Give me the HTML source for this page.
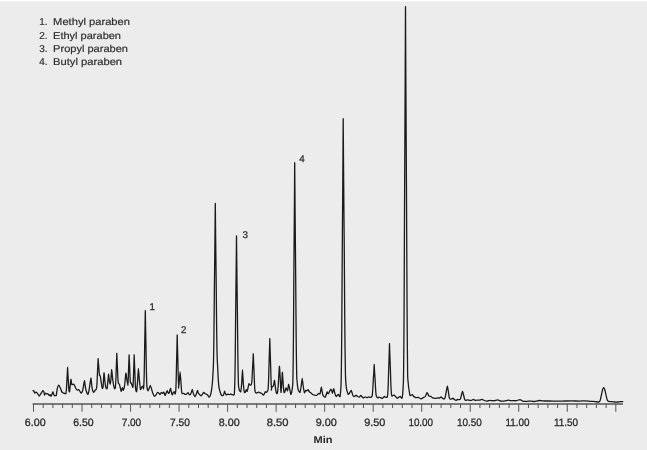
<!DOCTYPE html>
<html><head><meta charset="utf-8"><style>
html,body{margin:0;padding:0;}
body{width:647px;height:450px;overflow:hidden;background:#ececec;}
svg{display:block;filter:grayscale(1);}
text{font-family:"Liberation Sans",sans-serif;text-rendering:geometricPrecision;}
</style></head><body>
<svg width="647" height="450" viewBox="0 0 647 450">
<rect x="0" y="0" width="647" height="450" fill="#ececec"/>
<rect x="0" y="0" width="647" height="1" fill="#ffffff"/>
<rect x="0" y="1" width="647" height="1" fill="#f4f4f4"/>
<g fill="#2e2e2e" font-size="10" stroke="#2e2e2e" stroke-width="0.18">
<text x="39.3" y="25.3">1.</text><text x="53.1" y="25.3" textLength="76.9" lengthAdjust="spacingAndGlyphs">Methyl paraben</text><text x="39.3" y="38.7">2.</text><text x="53.1" y="38.7" textLength="67.9" lengthAdjust="spacingAndGlyphs">Ethyl paraben</text><text x="39.3" y="51.6">3.</text><text x="53.1" y="51.6" textLength="74.9" lengthAdjust="spacingAndGlyphs">Propyl paraben</text><text x="39.3" y="65.1">4.</text><text x="53.1" y="65.1" textLength="69" lengthAdjust="spacingAndGlyphs">Butyl paraben</text>
</g>
<g stroke="#555" stroke-width="1" fill="none">
<line x1="33.5" y1="403.9" x2="33.5" y2="411.8"/><line x1="43.2" y1="403.9" x2="43.2" y2="408"/><line x1="52.91" y1="403.9" x2="52.91" y2="408"/><line x1="62.62" y1="403.9" x2="62.62" y2="408"/><line x1="72.32" y1="403.9" x2="72.32" y2="408"/><line x1="82.03" y1="403.9" x2="82.03" y2="411.8"/><line x1="91.73" y1="403.9" x2="91.73" y2="408"/><line x1="101.44" y1="403.9" x2="101.44" y2="408"/><line x1="111.14" y1="403.9" x2="111.14" y2="408"/><line x1="120.84" y1="403.9" x2="120.84" y2="408"/><line x1="130.55" y1="403.9" x2="130.55" y2="411.8"/><line x1="140.25" y1="403.9" x2="140.25" y2="408"/><line x1="149.96" y1="403.9" x2="149.96" y2="408"/><line x1="159.67" y1="403.9" x2="159.67" y2="408"/><line x1="169.37" y1="403.9" x2="169.37" y2="408"/><line x1="179.07" y1="403.9" x2="179.07" y2="411.8"/><line x1="188.78" y1="403.9" x2="188.78" y2="408"/><line x1="198.49" y1="403.9" x2="198.49" y2="408"/><line x1="208.19" y1="403.9" x2="208.19" y2="408"/><line x1="217.9" y1="403.9" x2="217.9" y2="408"/><line x1="227.6" y1="403.9" x2="227.6" y2="411.8"/><line x1="237.31" y1="403.9" x2="237.31" y2="408"/><line x1="247.01" y1="403.9" x2="247.01" y2="408"/><line x1="256.72" y1="403.9" x2="256.72" y2="408"/><line x1="266.42" y1="403.9" x2="266.42" y2="408"/><line x1="276.12" y1="403.9" x2="276.12" y2="411.8"/><line x1="285.83" y1="403.9" x2="285.83" y2="408"/><line x1="295.54" y1="403.9" x2="295.54" y2="408"/><line x1="305.24" y1="403.9" x2="305.24" y2="408"/><line x1="314.95" y1="403.9" x2="314.95" y2="408"/><line x1="324.65" y1="403.9" x2="324.65" y2="411.8"/><line x1="334.36" y1="403.9" x2="334.36" y2="408"/><line x1="344.06" y1="403.9" x2="344.06" y2="408"/><line x1="353.77" y1="403.9" x2="353.77" y2="408"/><line x1="363.47" y1="403.9" x2="363.47" y2="408"/><line x1="373.18" y1="403.9" x2="373.18" y2="411.8"/><line x1="382.88" y1="403.9" x2="382.88" y2="408"/><line x1="392.58" y1="403.9" x2="392.58" y2="408"/><line x1="402.29" y1="403.9" x2="402.29" y2="408"/><line x1="412" y1="403.9" x2="412" y2="408"/><line x1="421.7" y1="403.9" x2="421.7" y2="411.8"/><line x1="431.41" y1="403.9" x2="431.41" y2="408"/><line x1="441.11" y1="403.9" x2="441.11" y2="408"/><line x1="450.81" y1="403.9" x2="450.81" y2="408"/><line x1="460.52" y1="403.9" x2="460.52" y2="408"/><line x1="470.22" y1="403.9" x2="470.22" y2="411.8"/><line x1="479.93" y1="403.9" x2="479.93" y2="408"/><line x1="489.63" y1="403.9" x2="489.63" y2="408"/><line x1="499.34" y1="403.9" x2="499.34" y2="408"/><line x1="509.05" y1="403.9" x2="509.05" y2="408"/><line x1="518.75" y1="403.9" x2="518.75" y2="411.8"/><line x1="528.46" y1="403.9" x2="528.46" y2="408"/><line x1="538.16" y1="403.9" x2="538.16" y2="408"/><line x1="547.87" y1="403.9" x2="547.87" y2="408"/><line x1="557.57" y1="403.9" x2="557.57" y2="408"/><line x1="567.27" y1="403.9" x2="567.27" y2="411.8"/><line x1="576.98" y1="403.9" x2="576.98" y2="408"/><line x1="586.68" y1="403.9" x2="586.68" y2="408"/><line x1="596.39" y1="403.9" x2="596.39" y2="408"/><line x1="606.1" y1="403.9" x2="606.1" y2="408"/><line x1="615.8" y1="403.9" x2="615.8" y2="411.8"/>
</g>
<line x1="32.6" y1="403.9" x2="623" y2="403.9" stroke="#555" stroke-width="1.5"/>
<path d="M33 390.7C33.08 390.72 33.75 390.79 33.9 391C34.05 391.21 34.64 393.1 34.8 393.2C34.96 393.3 35.64 392.26 35.8 392.2C35.96 392.14 36.52 392.34 36.7 392.5C36.88 392.66 37.79 393.81 38 394.1C38.21 394.39 39 395.98 39.2 396C39.4 396.02 40.17 394.74 40.4 394.4C40.63 394.06 41.79 392.21 42 391.9C42.21 391.59 42.74 390.7 42.9 390.7C43.06 390.7 43.77 391.54 43.9 391.9C44.03 392.26 44.38 394.89 44.5 395C44.62 395.11 45.22 393.3 45.4 393.2C45.58 393.1 46.49 393.75 46.7 393.8C46.91 393.85 47.69 393.65 47.9 393.8C48.11 393.95 49.02 395.53 49.2 395.6C49.38 395.68 49.95 394.64 50.1 394.7C50.25 394.76 50.84 396.35 51 396.3C51.16 396.25 51.84 394.47 52 394.1C52.16 393.73 52.73 391.8 52.9 391.9C53.07 392 53.89 394.99 54.1 395.3C54.31 395.61 55.22 395.6 55.4 395.6C55.58 395.6 56.15 395.87 56.3 395.3C56.45 394.73 56.99 389.65 57.2 388.8C57.41 387.95 58.53 385.15 58.8 385.1C59.07 385.05 60.14 387.63 60.4 388.2C60.66 388.77 61.7 391.52 61.9 391.9C62.1 392.28 62.57 392.67 62.8 392.8C63.03 392.93 64.43 393.44 64.7 393.5C64.97 393.56 65.89 393.63 66 393.5C66.11 393.37 66.06 392.19 66.08 391.98C66.1 391.77 66.22 391.19 66.25 390.96C66.28 390.73 66.4 389.54 66.43 389.18C66.46 388.81 66.57 387.16 66.6 386.62C66.63 386.09 66.76 383.44 66.79 382.8C66.82 382.16 66.94 379.61 66.98 378.98C67.01 378.34 67.17 375.72 67.21 375.15C67.24 374.58 67.35 372.56 67.37 372.09C67.4 371.62 67.49 369.86 67.5 369.54C67.52 369.22 67.56 368.44 67.56 368.26C67.57 368.09 67.59 367.5 67.6 367.5C67.61 367.5 67.63 368.07 67.64 368.24C67.64 368.4 67.68 369.15 67.7 369.46C67.71 369.77 67.8 371.46 67.83 371.91C67.85 372.36 67.96 374.3 67.99 374.85C68.03 375.4 68.19 377.91 68.22 378.52C68.26 379.14 68.38 381.59 68.41 382.2C68.44 382.81 68.57 385.36 68.6 385.88C68.63 386.39 68.74 387.98 68.77 388.32C68.8 388.67 68.92 389.82 68.95 390.04C68.98 390.26 69.07 390.9 69.12 391.02C69.18 391.14 69.45 392.47 69.6 391.5C69.75 390.53 70.73 379.99 70.9 379.4C71.08 378.81 71.58 383.97 71.7 384.4C71.82 384.83 72.14 384.62 72.3 384.6C72.46 384.58 73.42 384.05 73.6 384.1C73.78 384.15 74.33 384.88 74.5 385.2C74.67 385.52 75.38 387.6 75.6 388C75.82 388.4 76.92 389.86 77.2 390C77.48 390.14 78.64 389.53 78.9 389.7C79.16 389.87 80.09 391.73 80.3 392C80.51 392.27 81.19 393.17 81.4 393C81.61 392.83 82.55 391.02 82.8 390C83.05 388.98 84.17 380.84 84.4 380.7C84.63 380.56 85.41 387.34 85.6 388.3C85.79 389.26 86.5 391.69 86.7 392.2C86.9 392.71 87.79 394.63 88 394.4C88.21 394.17 88.96 390.75 89.2 389.4C89.44 388.05 90.68 378.43 90.9 378.2C91.12 377.97 91.74 385.62 91.9 386.7C92.06 387.77 92.63 390.64 92.8 391.1C92.97 391.56 93.72 392.26 93.9 392.2C94.08 392.14 94.81 390.64 95 390.4C95.19 390.16 96.07 389.52 96.2 389.3C96.33 389.08 96.53 388.01 96.58 387.78C96.62 387.56 96.72 386.85 96.75 386.57C96.78 386.29 96.9 384.87 96.93 384.44C96.96 384.01 97.07 382.03 97.1 381.4C97.13 380.77 97.26 377.6 97.29 376.84C97.32 376.08 97.44 373.04 97.48 372.28C97.51 371.52 97.67 368.4 97.71 367.72C97.74 367.04 97.85 364.63 97.87 364.07C97.9 363.51 97.99 361.41 98 361.03C98.02 360.65 98.06 359.71 98.06 359.51C98.07 359.31 98.09 358.63 98.1 358.6C98.11 358.57 98.13 359.01 98.14 359.12C98.14 359.24 98.18 359.77 98.2 359.99C98.21 360.21 98.3 361.41 98.33 361.73C98.35 362.05 98.46 363.43 98.49 363.82C98.53 364.21 98.69 366 98.72 366.43C98.76 366.87 98.88 368.61 98.91 369.04C98.94 369.48 99.07 371.29 99.1 371.65C99.13 372.01 99.24 373.14 99.27 373.39C99.3 373.64 99.42 374.45 99.45 374.61C99.48 374.77 99.63 375.25 99.62 375.3C99.62 375.36 99.34 375.23 99.4 375.3C99.46 375.37 100.15 375.61 100.3 376.2C100.45 376.79 101.03 381.38 101.2 382.4C101.37 383.42 102.14 388.03 102.3 388.4C102.46 388.77 102.96 388.1 103.1 386.8C103.24 385.5 103.84 373.17 104 372.8C104.16 372.43 104.84 381.16 105 382.4C105.16 383.64 105.73 387.18 105.9 387.7C106.08 388.22 106.92 389.4 107.1 388.7C107.28 388 107.97 380.51 108.1 379.3C108.22 378.09 108.5 374.09 108.6 374.2C108.7 374.31 109.17 379.78 109.3 380.6C109.43 381.42 110.06 384.16 110.2 384C110.34 383.84 110.88 379.9 111 378.7C111.12 377.5 111.56 369.55 111.7 369.6C111.84 369.65 112.53 377.97 112.7 379.3C112.87 380.63 113.54 384.82 113.7 385.6C113.86 386.38 114.45 388.55 114.6 388.7C114.75 388.85 115.43 387.57 115.5 387.4C115.57 387.23 115.4 386.79 115.4 386.61C115.41 386.43 115.54 385.54 115.56 385.22C115.59 384.91 115.7 383.29 115.73 382.8C115.76 382.3 115.86 380.05 115.88 379.32C115.91 378.6 116.03 374.99 116.06 374.12C116.08 373.25 116.2 369.78 116.23 368.92C116.26 368.05 116.41 364.49 116.44 363.71C116.47 362.93 116.57 360.18 116.59 359.55C116.61 358.91 116.7 356.51 116.71 356.08C116.72 355.64 116.76 354.57 116.77 354.34C116.77 354.11 116.79 353.31 116.8 353.3C116.81 353.29 116.83 354.02 116.84 354.22C116.84 354.43 116.88 355.37 116.9 355.76C116.91 356.14 117 358.26 117.03 358.83C117.05 359.39 117.16 361.82 117.19 362.51C117.23 363.2 117.39 366.35 117.42 367.12C117.46 367.88 117.58 370.95 117.61 371.72C117.64 372.49 117.77 375.69 117.8 376.32C117.83 376.96 117.94 378.96 117.97 379.39C118 379.83 118.12 381.26 118.15 381.54C118.18 381.83 118.28 382.62 118.32 382.77C118.36 382.93 118.49 383.22 118.6 383.4C118.71 383.58 119.39 384.25 119.6 384.9C119.81 385.55 120.87 390.97 121.1 391.2C121.33 391.43 122.22 387.78 122.4 387.7C122.58 387.62 123.12 390.38 123.3 390.2C123.48 390.02 124.38 387.01 124.6 385.6C124.82 384.19 125.72 373.82 125.9 373.3C126.08 372.78 126.63 378.33 126.8 379.3C126.97 380.27 127.81 384.45 127.9 384.9C127.99 385.35 127.83 384.87 127.83 384.76C127.84 384.64 127.95 383.8 127.98 383.51C128 383.23 128.1 381.78 128.13 381.33C128.15 380.89 128.24 378.87 128.27 378.23C128.29 377.58 128.4 374.34 128.42 373.56C128.45 372.78 128.55 369.67 128.58 368.89C128.61 368.12 128.75 364.93 128.77 364.23C128.8 363.53 128.89 361.07 128.91 360.5C128.93 359.93 129.01 357.78 129.02 357.39C129.03 357 129.06 356.04 129.07 355.83C129.08 355.63 129.09 354.9 129.1 354.9C129.11 354.89 129.13 355.58 129.13 355.77C129.14 355.97 129.18 356.86 129.19 357.23C129.2 357.59 129.29 359.6 129.31 360.14C129.33 360.67 129.43 362.98 129.46 363.63C129.49 364.28 129.64 367.27 129.67 368C129.7 368.72 129.82 371.63 129.84 372.36C129.87 373.09 129.99 376.12 130.02 376.73C130.04 377.33 130.14 379.22 130.17 379.63C130.2 380.05 130.31 381.41 130.34 381.67C130.36 381.94 130.46 382.78 130.5 382.84C130.53 382.9 130.7 382.28 130.8 382.4C130.9 382.52 131.53 383.88 131.7 384.3C131.87 384.72 132.7 387.2 132.8 387.4C132.9 387.6 132.91 386.85 132.93 386.68C132.95 386.51 133.05 385.66 133.08 385.35C133.1 385.05 133.2 383.5 133.23 383.03C133.25 382.57 133.34 380.41 133.37 379.73C133.39 379.04 133.5 375.59 133.52 374.76C133.55 373.93 133.65 370.62 133.68 369.79C133.71 368.97 133.85 365.57 133.87 364.83C133.9 364.09 133.99 361.46 134.01 360.86C134.03 360.25 134.11 357.96 134.12 357.55C134.13 357.13 134.16 356.11 134.17 355.89C134.18 355.67 134.19 354.89 134.2 354.9C134.21 354.91 134.23 355.74 134.24 355.98C134.24 356.22 134.28 357.34 134.3 357.79C134.31 358.24 134.4 360.74 134.43 361.4C134.45 362.06 134.56 364.92 134.59 365.73C134.63 366.54 134.79 370.24 134.82 371.14C134.86 372.05 134.98 375.66 135.01 376.56C135.04 377.46 135.17 381.22 135.2 381.98C135.23 382.73 135.34 385.07 135.37 385.58C135.4 386.1 135.52 387.78 135.55 388.11C135.58 388.44 135.63 389.27 135.72 389.56C135.81 389.85 136.44 392.3 136.6 391.6C136.76 390.9 137.45 383.03 137.6 381.1C137.75 379.17 138.24 368.4 138.4 368.4C138.56 368.4 139.32 379.34 139.5 381.1C139.68 382.86 140.31 389.01 140.5 389.5C140.69 389.99 141.62 387.27 141.8 387C141.98 386.73 142.56 386.03 142.7 386.2C142.84 386.37 143.41 389.03 143.5 389C143.59 388.97 143.74 386.38 143.78 385.86C143.82 385.34 143.92 383.44 143.95 382.72C143.98 382 144.1 378.34 144.13 377.23C144.16 376.11 144.27 371.01 144.3 369.38C144.33 367.74 144.46 359.56 144.49 357.6C144.52 355.64 144.64 347.79 144.68 345.82C144.71 343.86 144.87 335.82 144.91 334.05C144.94 332.28 145.05 326.07 145.07 324.63C145.1 323.19 145.19 317.76 145.2 316.78C145.22 315.8 145.26 313.38 145.26 312.86C145.27 312.33 145.29 310.5 145.3 310.5C145.31 310.5 145.33 312.36 145.34 312.88C145.35 313.41 145.39 315.87 145.41 316.86C145.42 317.85 145.52 323.35 145.55 324.81C145.57 326.27 145.69 332.56 145.73 334.35C145.76 336.14 145.94 344.29 145.97 346.27C146.01 348.26 146.15 356.21 146.18 358.2C146.21 360.19 146.35 368.47 146.38 370.12C146.41 371.78 146.53 376.95 146.57 378.07C146.6 379.2 146.73 382.91 146.76 383.64C146.79 384.37 146.9 386.33 146.95 386.82C147 387.31 147.3 389.17 147.4 389.5C147.5 389.83 147.95 390.9 148.1 390.8C148.25 390.7 149.02 388.76 149.2 388.3C149.38 387.84 150.11 385.27 150.3 385.3C150.49 385.33 151.29 388.03 151.5 388.7C151.71 389.37 152.55 392.67 152.8 393.3C153.05 393.93 154.22 396.19 154.5 396.3C154.78 396.41 155.96 394.92 156.2 394.6C156.44 394.28 157.19 392.64 157.4 392.5C157.61 392.36 158.48 392.72 158.7 392.9C158.92 393.07 159.79 394.63 160 394.6C160.21 394.57 160.99 392.61 161.2 392.5C161.41 392.39 162.28 393.33 162.5 393.3C162.72 393.27 163.59 391.93 163.8 392.1C164.01 392.28 164.82 395.3 165 395.4C165.18 395.5 165.81 393.69 166 393.3C166.19 392.91 167.11 390.7 167.3 390.7C167.49 390.7 168.13 393.13 168.3 393.3C168.47 393.47 169.12 393.12 169.3 392.7C169.48 392.28 170.33 388.36 170.5 388.3C170.67 388.24 171.15 391.44 171.3 392C171.45 392.56 172.13 394.94 172.3 395C172.47 395.06 173.13 392.97 173.3 392.7C173.47 392.43 174.15 391.57 174.3 391.7C174.45 391.83 174.99 394.31 175.1 394.3C175.21 394.3 175.62 392.06 175.68 391.64C175.74 391.22 175.82 389.82 175.85 389.28C175.88 388.74 176 385.99 176.03 385.15C176.06 384.31 176.17 380.48 176.2 379.25C176.23 378.02 176.36 371.88 176.39 370.4C176.42 368.92 176.54 363.03 176.58 361.55C176.61 360.07 176.77 354.03 176.81 352.7C176.84 351.37 176.95 346.7 176.97 345.62C177 344.54 177.09 340.46 177.1 339.72C177.12 338.98 177.16 337.16 177.16 336.77C177.17 336.38 177.19 335.01 177.2 335C177.21 334.99 177.23 336.24 177.24 336.59C177.24 336.94 177.28 338.58 177.3 339.24C177.31 339.9 177.4 343.57 177.43 344.54C177.45 345.51 177.56 349.71 177.59 350.9C177.63 352.09 177.79 357.53 177.82 358.85C177.86 360.18 177.98 365.48 178.01 366.8C178.04 368.12 178.17 373.65 178.2 374.75C178.23 375.85 178.34 379.3 178.37 380.05C178.4 380.8 178.52 383.27 178.55 383.76C178.58 384.25 178.73 385.53 178.72 385.88C178.72 386.23 178.45 388.38 178.5 388C178.55 387.62 179.17 382.63 179.3 381.3C179.43 379.97 179.97 372 180.1 372C180.23 372 180.78 379.69 180.9 381.3C181.03 382.91 181.48 390.27 181.6 391.3C181.72 392.33 182.12 393.53 182.3 393.7C182.48 393.87 183.47 393.25 183.7 393.3C183.92 393.35 184.78 394.22 185 394.3C185.22 394.38 186.05 394.43 186.3 394.3C186.55 394.17 187.78 392.7 188 392.7C188.22 392.7 188.83 394.13 189 394.3C189.17 394.47 189.83 394.78 190 394.7C190.17 394.62 190.81 393.75 191 393.3C191.19 392.85 192.11 389.3 192.3 389.3C192.49 389.3 193.08 392.68 193.3 393.3C193.53 393.92 194.75 396.64 195 396.7C195.25 396.76 196.09 394.53 196.3 394C196.51 393.47 197.33 390.36 197.5 390.3C197.67 390.24 198.12 392.93 198.3 393.3C198.48 393.67 199.45 394.48 199.7 394.7C199.95 394.92 201.08 395.93 201.3 395.9C201.52 395.87 202.1 394.6 202.3 394.3C202.5 394 203.5 392.38 203.7 392.3C203.9 392.22 204.53 393.16 204.7 393.3C204.87 393.44 205.53 393.92 205.7 394C205.87 394.08 206.53 394.22 206.7 394.3C206.87 394.38 207.52 394.77 207.7 395C207.88 395.23 208.61 396.9 208.8 397C208.99 397.1 209.81 396.56 210 396.2C210.19 395.84 210.94 393.44 211.1 392.7C211.26 391.96 211.78 388.36 211.9 387.3C212.03 386.24 212.49 381.6 212.6 380C212.71 378.4 213.2 369.7 213.27 368.14C213.35 366.58 213.46 362.85 213.5 361.28C213.54 359.71 213.7 351.7 213.74 349.27C213.78 346.85 213.93 335.7 213.97 332.12C214.01 328.55 214.18 310.69 214.22 306.4C214.26 302.11 214.42 284.96 214.47 280.68C214.52 276.39 214.73 258.81 214.78 254.95C214.82 251.09 214.96 237.51 215 234.37C215.03 231.23 215.15 219.36 215.17 217.22C215.19 215.08 215.24 209.79 215.25 208.65C215.26 207.5 215.29 203.52 215.3 203.5C215.31 203.48 215.34 207.34 215.35 208.44C215.36 209.53 215.41 214.6 215.43 216.66C215.45 218.72 215.57 230.09 215.6 233.11C215.64 236.13 215.78 249.15 215.82 252.85C215.87 256.55 216.08 273.41 216.13 277.52C216.18 281.64 216.34 298.09 216.38 302.2C216.42 306.31 216.59 323.45 216.63 326.88C216.67 330.3 216.82 340.99 216.86 343.32C216.9 345.66 217.06 353.33 217.1 354.84C217.14 356.35 217.28 360.32 217.33 361.42C217.38 362.52 217.62 366.46 217.7 368C217.78 369.54 218.19 378.29 218.3 379.9C218.41 381.51 218.82 386.23 219 387.3C219.18 388.37 220.19 392.03 220.4 392.7C220.61 393.37 221.31 395.06 221.5 395.3C221.69 395.54 222.52 395.67 222.7 395.6C222.88 395.53 223.55 394.86 223.7 394.5C223.85 394.14 224.37 391.4 224.5 391.3C224.63 391.2 225.15 392.99 225.3 393.3C225.45 393.61 226.13 394.92 226.3 395C226.47 395.08 227.1 394.36 227.3 394.3C227.5 394.24 228.5 394.27 228.7 394.3C228.9 394.33 229.53 394.72 229.7 394.7C229.87 394.68 230.51 394 230.7 394C230.89 394 231.78 394.62 232 394.7C232.22 394.78 233.11 395.03 233.3 395C233.49 394.97 234.19 394.83 234.3 394.3C234.41 393.77 234.55 389.63 234.6 388.63C234.64 387.63 234.78 383.72 234.81 382.26C234.85 380.8 235 373.38 235.04 371.12C235.08 368.86 235.21 358.52 235.25 355.2C235.29 351.88 235.45 335.3 235.48 331.32C235.52 327.34 235.68 311.42 235.72 307.44C235.77 303.46 235.97 287.14 236.01 283.56C236.05 279.98 236.19 267.37 236.22 264.46C236.25 261.54 236.36 250.53 236.38 248.54C236.4 246.55 236.44 241.64 236.45 240.58C236.46 239.51 236.49 235.81 236.5 235.8C236.51 235.79 236.54 239.44 236.55 240.49C236.56 241.53 236.61 246.34 236.63 248.3C236.65 250.25 236.77 261.05 236.8 263.92C236.84 266.78 236.98 279.15 237.02 282.66C237.07 286.17 237.28 302.19 237.33 306.09C237.38 310 237.54 325.62 237.58 329.52C237.62 333.42 237.79 349.7 237.83 352.95C237.87 356.2 238.02 366.36 238.06 368.57C238.1 370.78 238.26 378.07 238.3 379.5C238.34 380.94 238.45 384.88 238.53 385.75C238.61 386.63 239.12 389.5 239.3 390C239.48 390.5 240.5 392.26 240.7 391.7C240.9 391.14 241.55 385.13 241.7 383.3C241.85 381.47 242.37 369.7 242.5 369.7C242.63 369.7 243.15 381.44 243.3 383.3C243.45 385.16 244.13 391.25 244.3 392C244.47 392.75 245.13 392.49 245.3 392.3C245.47 392.11 246.14 389.78 246.3 389.7C246.46 389.62 247.06 391.44 247.2 391.3C247.34 391.16 247.85 388.63 248 388C248.15 387.37 248.83 383.95 249 383.7C249.17 383.45 249.83 384.89 250 385C250.17 385.11 250.87 385.1 251 385C251.13 384.9 251.46 383.96 251.52 383.75C251.58 383.54 251.69 382.79 251.73 382.5C251.76 382.22 251.9 380.76 251.94 380.32C251.97 379.88 252.1 377.85 252.13 377.2C252.17 376.55 252.32 373.3 252.35 372.52C252.39 371.74 252.53 368.62 252.57 367.84C252.61 367.06 252.8 363.86 252.84 363.16C252.88 362.46 253.01 359.99 253.04 359.42C253.06 358.84 253.17 356.69 253.19 356.3C253.2 355.91 253.25 354.94 253.26 354.74C253.27 354.53 253.29 353.78 253.3 353.8C253.31 353.82 253.33 354.71 253.34 354.98C253.35 355.24 253.4 356.45 253.41 356.94C253.43 357.43 253.54 360.14 253.56 360.86C253.59 361.57 253.72 364.68 253.76 365.56C253.8 366.44 253.99 370.46 254.03 371.44C254.07 372.42 254.21 376.34 254.25 377.32C254.28 378.3 254.43 382.38 254.47 383.2C254.5 384.02 254.63 386.56 254.66 387.12C254.7 387.68 254.84 389.5 254.87 389.86C254.91 390.22 255.01 391.2 255.08 391.43C255.14 391.67 255.56 392.57 255.7 392.7C255.84 392.83 256.51 393.03 256.7 393C256.89 392.97 257.78 392.36 258 392.3C258.22 392.24 259.07 392.24 259.3 392.3C259.53 392.36 260.47 392.88 260.7 393C260.93 393.12 261.78 393.52 262 393.7C262.22 393.88 263.11 395.18 263.3 395.2C263.49 395.22 264.13 394.29 264.3 394C264.47 393.71 265.13 391.84 265.3 391.7C265.47 391.56 266.13 392.33 266.3 392.3C266.47 392.27 267.16 391.5 267.3 391.3C267.44 391.1 267.95 390.16 268.02 389.86C268.1 389.56 268.19 388.21 268.23 387.72C268.26 387.23 268.4 384.73 268.44 383.98C268.47 383.22 268.6 379.74 268.63 378.62C268.67 377.51 268.82 371.94 268.85 370.6C268.89 369.26 269.03 363.91 269.07 362.57C269.11 361.24 269.3 355.75 269.34 354.55C269.38 353.35 269.51 349.11 269.54 348.13C269.56 347.15 269.67 343.45 269.69 342.78C269.7 342.11 269.75 340.46 269.76 340.11C269.77 339.75 269.79 338.5 269.8 338.5C269.81 338.5 269.83 339.72 269.84 340.07C269.85 340.43 269.9 342.04 269.91 342.7C269.93 343.36 270.04 346.99 270.06 347.95C270.09 348.91 270.22 353.07 270.26 354.25C270.3 355.43 270.49 360.81 270.53 362.12C270.57 363.44 270.71 368.69 270.75 370C270.78 371.31 270.93 376.78 270.97 377.88C271 378.97 271.13 382.38 271.16 383.12C271.2 383.87 271.34 386.32 271.37 386.8C271.41 387.28 271.58 388.63 271.58 388.9C271.57 389.17 271.26 390.16 271.3 390C271.34 389.84 271.86 387.31 272 387C272.14 386.69 272.86 386.49 273 386.3C273.14 386.11 273.57 385.2 273.7 384.7C273.82 384.2 274.37 380.13 274.5 380.3C274.63 380.47 275.15 385.67 275.3 386.7C275.45 387.73 276.13 392.15 276.3 392.7C276.47 393.25 277.14 393.86 277.3 393.3C277.46 392.74 278.02 388.24 278.2 386C278.38 383.76 279.23 367.07 279.4 366.4C279.57 365.73 280.07 375.83 280.2 378C280.33 380.17 280.87 392.07 281 392.4C281.13 392.73 281.68 383.67 281.8 382C281.92 380.33 282.28 372.2 282.4 372.4C282.52 372.6 283.07 382.73 283.2 384.4C283.33 386.07 283.87 391.77 284 392.4C284.13 393.03 284.63 392.37 284.8 392C284.97 391.63 285.83 388.23 286 388C286.17 387.77 286.67 388.97 286.8 389.2C286.93 389.43 287.45 391.2 287.6 390.8C287.75 390.4 288.43 384.6 288.6 384.4C288.77 384.2 289.42 387.57 289.6 388.4C289.78 389.23 290.62 394.13 290.8 394.4C290.98 394.67 291.63 392.48 291.8 391.6C291.97 390.72 292.7 385.21 292.8 383.79C292.9 382.37 292.98 376.69 293.01 374.58C293.05 372.46 293.2 361.72 293.24 358.45C293.28 355.19 293.41 340.22 293.45 335.43C293.49 330.63 293.65 306.64 293.68 300.88C293.72 295.12 293.88 272.09 293.92 266.33C293.97 260.58 294.17 236.97 294.21 231.79C294.25 226.61 294.39 208.38 294.42 204.15C294.45 199.93 294.56 184 294.58 181.12C294.6 178.25 294.64 171.14 294.65 169.61C294.66 168.07 294.69 162.71 294.7 162.7C294.71 162.69 294.74 167.96 294.75 169.46C294.76 170.96 294.82 177.91 294.84 180.72C294.86 183.54 294.99 199.12 295.02 203.25C295.06 207.38 295.21 225.22 295.26 230.29C295.3 235.36 295.53 258.45 295.58 264.08C295.63 269.72 295.81 292.25 295.85 297.88C295.9 303.51 296.07 326.98 296.12 331.68C296.16 336.37 296.31 351.01 296.36 354.2C296.4 357.4 296.57 367.91 296.61 369.98C296.65 372.04 296.74 377.39 296.86 378.99C296.97 380.59 297.8 388.15 298 389.2C298.2 390.25 299.03 391.35 299.2 391.6C299.37 391.85 299.83 392.67 300 392.2C300.17 391.73 301.02 387.15 301.2 386C301.38 384.85 302.03 378.4 302.2 378.4C302.37 378.4 303.02 384.8 303.2 386C303.38 387.2 304.2 392.43 304.4 392.8C304.6 393.17 305.4 390.57 305.6 390.4C305.8 390.23 306.58 390.87 306.8 390.8C307.02 390.73 308 389.53 308.2 389.6C308.4 389.67 308.95 391.3 309.2 391.6C309.45 391.9 310.87 392.93 311.2 393.2C311.53 393.47 312.87 394.62 313.2 394.8C313.53 394.98 314.9 395.26 315.2 395.3C315.5 395.34 316.59 395.38 316.8 395.3C317.01 395.23 317.54 394.55 317.7 394.4C317.86 394.25 318.52 393.52 318.7 393.5C318.88 393.48 319.75 394.23 319.9 394.1C320.05 393.97 320.38 392.47 320.5 391.9C320.62 391.32 321.17 387.25 321.3 387.2C321.43 387.15 321.96 390.62 322.1 391.3C322.24 391.98 322.84 394.86 323 395.3C323.16 395.74 323.82 396.44 324 396.6C324.18 396.76 325.02 397.33 325.2 397.2C325.38 397.07 325.94 395.44 326.1 395C326.26 394.56 326.96 392.02 327.1 391.9C327.24 391.77 327.68 393.37 327.8 393.5C327.93 393.63 328.45 393.68 328.6 393.5C328.75 393.32 329.42 391.67 329.6 391.3C329.78 390.93 330.62 389.15 330.8 389.1C330.98 389.05 331.56 390.36 331.7 390.7C331.84 391.04 332.37 393.28 332.5 393.2C332.63 393.12 333.19 390.07 333.3 389.7C333.41 389.33 333.7 388.62 333.8 388.8C333.9 388.98 334.36 391.36 334.5 391.9C334.64 392.44 335.34 394.91 335.5 395.3C335.66 395.69 336.25 396.6 336.4 396.6C336.55 396.6 337.14 395.48 337.3 395.3C337.46 395.12 338.14 394.35 338.3 394.4C338.46 394.45 339.05 395.74 339.2 395.9C339.35 396.06 339.95 397.22 340.1 396.3C340.25 395.38 340.94 386.78 341.04 384.91C341.14 383.03 341.25 376.36 341.29 373.82C341.33 371.27 341.5 358.33 341.54 354.4C341.59 350.48 341.74 332.45 341.78 326.68C341.83 320.9 342 292.01 342.05 285.08C342.09 278.15 342.27 250.42 342.32 243.48C342.37 236.55 342.6 208.13 342.64 201.89C342.69 195.65 342.84 173.7 342.88 168.61C342.91 163.53 343.04 144.35 343.06 140.88C343.08 137.42 343.14 128.87 343.15 127.02C343.16 125.17 343.19 118.72 343.2 118.7C343.21 118.69 343.24 125.03 343.26 126.84C343.27 128.65 343.33 137.01 343.36 140.4C343.38 143.8 343.52 162.56 343.56 167.53C343.6 172.51 343.77 193.99 343.82 200.09C343.87 206.19 344.13 234 344.19 240.78C344.24 247.57 344.44 274.7 344.49 281.48C344.54 288.26 344.73 316.52 344.78 322.18C344.83 327.83 345 345.46 345.05 349.31C345.1 353.15 345.29 365.81 345.34 368.3C345.38 370.78 345.52 377.49 345.61 379.15C345.7 380.81 346.26 387.14 346.4 388.2C346.54 389.26 347.15 391.38 347.3 391.9C347.45 392.42 348.04 394.27 348.2 394.4C348.36 394.53 349.02 393.73 349.2 393.5C349.38 393.27 350.23 391.86 350.4 391.6C350.57 391.34 351.07 390.32 351.2 390.4C351.33 390.47 351.86 392.07 352 392.5C352.14 392.93 352.72 395.17 352.9 395.5C353.08 395.83 353.94 396.52 354.2 396.5C354.46 396.48 355.72 395.2 356 395.2C356.28 395.2 357.33 396.34 357.6 396.5C357.87 396.66 358.92 397.18 359.2 397.1C359.48 397.02 360.77 395.52 361 395.5C361.23 395.48 361.82 396.59 362 396.8C362.18 397.01 362.94 398 363.2 398C363.46 398 364.79 396.82 365.1 396.8C365.41 396.78 366.62 397.7 366.9 397.7C367.18 397.7 368.24 396.82 368.5 396.8C368.76 396.78 369.77 397.38 370 397.4C370.23 397.42 371.13 397.2 371.3 397.1C371.47 397 371.96 396.37 372.04 396.18C372.13 395.99 372.25 395.16 372.29 394.86C372.33 394.56 372.5 393.02 372.54 392.55C372.59 392.08 372.74 389.94 372.78 389.25C372.83 388.56 373 385.12 373.05 384.3C373.09 383.48 373.27 380.18 373.32 379.35C373.37 378.53 373.6 375.14 373.64 374.4C373.69 373.66 373.84 371.05 373.88 370.44C373.91 369.83 374.04 367.55 374.06 367.14C374.08 366.73 374.14 365.71 374.15 365.49C374.16 365.27 374.19 364.5 374.2 364.5C374.21 364.5 374.24 365.27 374.25 365.49C374.26 365.71 374.32 366.73 374.34 367.14C374.36 367.55 374.49 369.83 374.52 370.44C374.56 371.05 374.71 373.66 374.76 374.4C374.8 375.14 375.03 378.53 375.08 379.35C375.13 380.18 375.31 383.48 375.35 384.3C375.4 385.12 375.57 388.56 375.62 389.25C375.66 389.94 375.81 392.08 375.86 392.55C375.9 393.02 376.07 394.56 376.11 394.86C376.15 395.16 376.22 395.92 376.36 396.18C376.5 396.44 377.57 397.92 377.8 398C378.03 398.08 378.87 397.12 379.1 397.1C379.33 397.08 380.32 397.6 380.6 397.7C380.88 397.8 382.18 398.4 382.5 398.3C382.82 398.2 384.12 396.57 384.4 396.5C384.68 396.43 385.67 397.35 385.9 397.4C386.13 397.45 387.06 397.27 387.2 397.1C387.34 396.93 387.55 395.67 387.6 395.34C387.65 395.01 387.78 393.68 387.81 393.18C387.85 392.69 388 390.16 388.04 389.4C388.08 388.63 388.21 385.12 388.25 384C388.29 382.88 388.45 377.25 388.48 375.9C388.52 374.55 388.68 369.15 388.72 367.8C388.77 366.45 388.97 360.91 389.01 359.7C389.05 358.49 389.19 354.21 389.22 353.22C389.25 352.23 389.36 348.5 389.38 347.82C389.4 347.14 389.44 345.48 389.45 345.12C389.46 344.76 389.49 343.5 389.5 343.5C389.51 343.5 389.54 344.74 389.55 345.09C389.56 345.44 389.61 347.08 389.63 347.74C389.65 348.4 389.77 352.07 389.8 353.04C389.84 354.01 389.98 358.21 390.02 359.4C390.07 360.59 390.28 366.03 390.33 367.35C390.38 368.68 390.54 373.98 390.58 375.3C390.62 376.62 390.79 382.15 390.83 383.25C390.87 384.35 391.02 387.8 391.06 388.55C391.1 389.3 391.26 391.77 391.3 392.26C391.34 392.75 391.47 394.05 391.53 394.38C391.59 394.71 391.88 396.11 392 396.2C392.12 396.29 392.82 395.58 393 395.5C393.18 395.42 393.99 395.12 394.2 395.2C394.41 395.28 395.24 396.24 395.5 396.5C395.76 396.76 397.02 398.25 397.3 398.3C397.58 398.35 398.64 397.25 398.9 397.1C399.16 396.95 400.17 396.4 400.4 396.5C400.62 396.6 401.43 398.28 401.6 398.3C401.77 398.32 402.25 398.21 402.4 396.8C402.55 395.39 403.31 383.97 403.42 381.39C403.52 378.8 403.62 369.35 403.66 365.78C403.7 362.2 403.86 343.98 403.9 338.45C403.94 332.93 404.09 307.56 404.13 299.43C404.18 291.29 404.35 250.64 404.39 240.88C404.43 231.12 404.6 192.09 404.65 182.33C404.7 172.58 404.92 132.57 404.96 123.79C405.01 115.01 405.16 84.11 405.19 76.95C405.22 69.8 405.34 42.8 405.37 37.92C405.39 33.05 405.44 21.01 405.45 18.41C405.46 15.81 405.49 6.71 405.5 6.7C405.51 6.69 405.54 15.74 405.55 18.32C405.57 20.9 405.62 32.84 405.65 37.68C405.67 42.53 405.8 69.31 405.84 76.41C405.88 83.51 406.04 114.18 406.09 122.89C406.14 131.6 406.38 171.3 406.43 180.98C406.49 190.67 406.67 229.4 406.72 239.08C406.77 248.76 406.95 289.11 407 297.18C407.04 305.24 407.21 330.42 407.25 335.9C407.3 341.39 407.48 359.47 407.52 363.02C407.57 366.57 407.59 375.85 407.78 378.51C407.97 381.16 409.53 393.51 409.8 394.9C410.07 396.29 410.79 395.22 411 395.2C411.21 395.18 412.09 394.52 412.3 394.6C412.51 394.68 413.29 395.99 413.5 396.2C413.71 396.41 414.59 396.98 414.8 397.1C415.01 397.23 415.8 397.68 416 397.7C416.2 397.72 416.99 397.42 417.2 397.4C417.41 397.38 418.29 397.32 418.5 397.4C418.71 397.47 419.49 398.18 419.7 398.3C419.91 398.43 420.79 398.9 421 398.9C421.21 398.9 421.97 398.43 422.2 398.3C422.43 398.18 423.54 397.55 423.8 397.4C424.06 397.25 425.04 396.89 425.3 396.5C425.56 396.11 426.68 392.92 426.9 392.7C427.12 392.48 427.74 393.62 427.9 393.9C428.06 394.18 428.62 395.92 428.8 396.1C428.98 396.28 429.82 396.08 430 396.1C430.18 396.12 430.72 396.27 430.9 396.4C431.08 396.52 431.94 397.45 432.2 397.6C432.46 397.75 433.69 398.13 434 398.2C434.31 398.27 435.59 398.43 435.9 398.4C436.21 398.37 437.42 397.82 437.7 397.8C437.98 397.78 439.02 398.17 439.3 398.1C439.58 398.03 440.84 396.99 441.1 397C441.36 397.01 442.17 398.02 442.4 398.2C442.63 398.38 443.67 399.27 443.9 399.2C444.13 399.12 445.02 397.87 445.2 397.3C445.38 396.73 445.93 393.32 446.1 392.4C446.28 391.47 447.12 386.31 447.3 386.2C447.48 386.09 448.14 390.18 448.3 391.1C448.46 392.03 449.02 396.62 449.2 397.3C449.38 397.98 450.19 399.07 450.4 399.2C450.61 399.33 451.49 398.98 451.7 398.9C451.91 398.82 452.67 398.15 452.9 398.2C453.12 398.25 454.14 399.32 454.4 399.5C454.66 399.68 455.74 400.3 456 400.3C456.26 400.3 457.22 399.55 457.5 399.5C457.78 399.45 459.14 399.78 459.4 399.7C459.66 399.62 460.43 398.91 460.6 398.5C460.78 398.09 461.33 395.39 461.5 394.8C461.67 394.21 462.42 391.34 462.6 391.4C462.78 391.46 463.53 394.85 463.7 395.5C463.87 396.15 464.44 398.8 464.6 399.2C464.76 399.6 465.33 400.25 465.6 400.3C465.87 400.35 467.47 399.8 467.8 399.8C468.13 399.8 469.29 400.26 469.6 400.3C469.91 400.34 471.19 400.37 471.5 400.3C471.81 400.23 472.99 399.5 473.3 399.5C473.61 399.5 474.82 400.25 475.2 400.3C475.57 400.35 477.43 400.12 477.8 400.1C478.17 400.08 479.25 400.17 479.6 400.1C479.95 400.03 481.61 399.27 482 399.3C482.39 399.33 483.88 400.34 484.3 400.5C484.73 400.66 486.64 401.22 487.1 401.2C487.56 401.18 489.38 400.34 489.8 400.3C490.23 400.26 491.81 400.67 492.2 400.7C492.59 400.73 494.04 400.77 494.5 400.7C494.96 400.62 497.2 399.78 497.7 399.8C498.2 399.82 500.07 400.88 500.5 401C500.93 401.12 502.38 401.22 502.8 401.2C503.23 401.18 505.13 400.79 505.6 400.7C506.07 400.61 508.01 400.1 508.4 400.1C508.79 400.1 509.92 400.65 510.3 400.7C510.68 400.75 512.5 400.7 513 400.7C513.5 400.7 515.72 400.79 516.3 400.7C516.88 400.61 519.46 399.56 520 399.6C520.54 399.64 522.33 401.05 522.8 401.2C523.27 401.35 525.14 401.4 525.6 401.4C526.06 401.4 527.8 401.22 528.3 401.2C528.8 401.18 531.09 401.18 531.6 401.2C532.11 401.22 533.76 401.56 534.4 401.5C535.04 401.44 538.42 400.54 539.3 400.5C540.18 400.46 544.11 400.96 545 401C545.89 401.04 548.93 400.98 550 401C551.07 401.02 556.55 401.2 557.8 401.2C559.05 401.2 563.82 401.02 565 401C566.18 400.98 570.75 400.89 572 400.9C573.25 400.91 578.92 401.11 580 401.1C581.08 401.09 584.03 400.78 584.9 400.8C585.77 400.82 589.53 401.23 590.4 401.3C591.27 401.37 594.6 401.54 595.3 401.6C596 401.66 598.39 402.11 598.8 402C599.21 401.89 599.97 400.97 600.2 400.3C600.43 399.63 601.4 394.9 601.6 394C601.8 393.1 602.42 390.02 602.6 389.5C602.78 388.98 603.6 387.62 603.8 387.7C604 387.78 604.81 389.86 605 390.5C605.19 391.14 605.91 394.58 606.1 395.4C606.29 396.22 607.1 399.81 607.3 400.3C607.5 400.79 608.17 401.19 608.5 401.3C608.83 401.41 610.77 401.54 611.3 401.6C611.82 401.66 614.27 401.97 614.8 402C615.32 402.03 617.14 402.03 617.6 402C618.06 401.97 619.87 401.63 620.3 401.6C620.73 401.57 622.59 401.6 622.8 401.6" fill="none" stroke="#1a1a1a" stroke-width="1.3" stroke-linejoin="round" stroke-linecap="round"/>
<g fill="#2b2b2b" font-size="10.7" stroke="#2b2b2b" stroke-width="0.3">
<text x="35.2" y="425.5" text-anchor="middle" textLength="20.8" lengthAdjust="spacingAndGlyphs">6.00</text><text x="83.45" y="425.5" text-anchor="middle" textLength="20.5" lengthAdjust="spacingAndGlyphs">6.50</text><text x="131.45" y="425.5" text-anchor="middle" textLength="19.5" lengthAdjust="spacingAndGlyphs">7.00</text><text x="180" y="425.5" text-anchor="middle" textLength="19.8" lengthAdjust="spacingAndGlyphs">7.50</text><text x="229.25" y="425.5" text-anchor="middle" textLength="20.9" lengthAdjust="spacingAndGlyphs">8.00</text><text x="277.6" y="425.5" text-anchor="middle" textLength="21.8" lengthAdjust="spacingAndGlyphs">8.50</text><text x="326.35" y="425.5" text-anchor="middle" textLength="21.1" lengthAdjust="spacingAndGlyphs">9.00</text><text x="374.8" y="425.5" text-anchor="middle" textLength="21.2" lengthAdjust="spacingAndGlyphs">9.50</text><text x="420.75" y="425.5" text-anchor="middle" textLength="24.7" lengthAdjust="spacingAndGlyphs">10.00</text><text x="469.45" y="425.5" text-anchor="middle" textLength="24.9" lengthAdjust="spacingAndGlyphs">10.50</text><text x="517.45" y="425.5" text-anchor="middle" textLength="24.1" lengthAdjust="spacingAndGlyphs">11.00</text><text x="565.95" y="425.5" text-anchor="middle" textLength="24.1" lengthAdjust="spacingAndGlyphs">11.50</text>
</g>
<text x="323" y="443.3" text-anchor="middle" font-size="10" font-weight="bold" fill="#262626" textLength="19" lengthAdjust="spacingAndGlyphs">Min</text>
<g fill="#2e2e2e" font-size="9.8" stroke="#2e2e2e" stroke-width="0.28">
<text x="149.6" y="309.6">1</text>
<text x="180.9" y="333.2">2</text>
<text x="242.6" y="237.8">3</text>
<text x="299.3" y="162">4</text>
</g>
</svg>
</body></html>
